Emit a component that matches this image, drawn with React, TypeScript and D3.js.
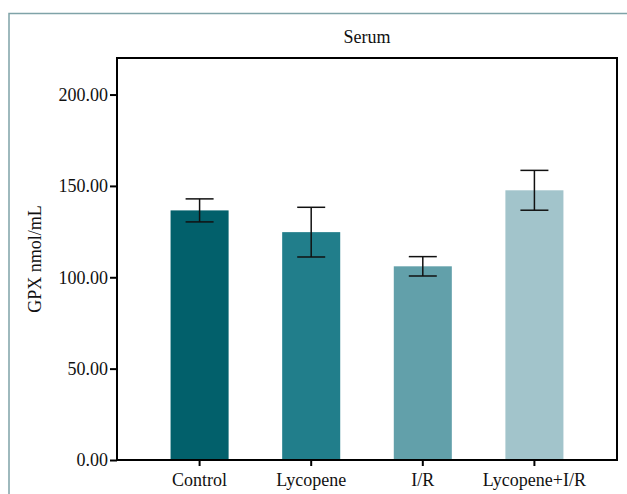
import React, { useRef, useEffect } from "react";
import * as d3 from "d3";

// chart data
const groups = ["Control", "Lycopene", "I/R", "Lycopene+I/R"];
const means = [136.6, 124.7, 106.0, 147.6];
const sems = [6.3, 13.6, 5.3, 10.9];
const barColors = ["#02606b", "#217e8b", "#62a0aa", "#a2c4cb"];
const yTicks = [0, 50, 100, 150, 200];
const title = "Serum";
const yLabel = "GPX nmol/mL";

const W = 627;
const H = 494;

const App = () => {
  const ref = useRef<SVGSVGElement | null>(null);

  useEffect(() => {
    if (!ref.current) return;
    const svg = d3.select(ref.current);
    svg.selectAll("*").remove();

    const font = "'Liberation Serif', 'DejaVu Serif', serif";
    const fs = 18;
    const margin = { top: 58, right: 10, bottom: 34, left: 117 };
    const width = W - margin.left - margin.right;
    const height = H - margin.top - margin.bottom;

    // outer frame (only top and left edges are visible)
    svg
      .append("path")
      .attr("d", `M9,${H} L9,13.5 L${W},13.5`)
      .attr("fill", "none")
      .attr("stroke", "#7fa3a8")
      .attr("stroke-width", 1.5);

    const chart = svg
      .append("g")
      .attr("transform", `translate(${margin.left},${margin.top})`);

    const x = d3.scaleBand().domain(groups).range([0, width]).padding(0.48);
    const y = d3.scaleLinear().domain([0, 220]).range([height, 0]);

    const data = groups.map((g, i) => ({ g, m: means[i], e: sems[i], c: barColors[i] }));

    // bars
    chart
      .selectAll("rect.bar")
      .data(data)
      .enter()
      .append("rect")
      .attr("class", "bar")
      .attr("x", (d) => x(d.g)!)
      .attr("y", (d) => y(d.m))
      .attr("width", x.bandwidth())
      .attr("height", (d) => height - y(d.m))
      .attr("fill", (d) => d.c);

    // error bars
    const cap = 14;
    const cx = (d: { g: string }) => x(d.g)! + x.bandwidth() / 2;
    const eb = chart.selectAll("g.err").data(data).enter().append("g").attr("class", "err");
    eb.append("line")
      .attr("x1", cx)
      .attr("x2", cx)
      .attr("y1", (d) => y(d.m - d.e))
      .attr("y2", (d) => y(d.m + d.e));
    eb.append("line")
      .attr("x1", (d) => cx(d) - cap)
      .attr("x2", (d) => cx(d) + cap)
      .attr("y1", (d) => y(d.m + d.e))
      .attr("y2", (d) => y(d.m + d.e));
    eb.append("line")
      .attr("x1", (d) => cx(d) - cap)
      .attr("x2", (d) => cx(d) + cap)
      .attr("y1", (d) => y(d.m - d.e))
      .attr("y2", (d) => y(d.m - d.e));
    eb.selectAll("line").attr("stroke", "#111").attr("stroke-width", 1.5);

    // box
    chart
      .append("rect")
      .attr("x", 0)
      .attr("y", 0)
      .attr("width", width)
      .attr("height", height)
      .attr("fill", "none")
      .attr("stroke", "#000")
      .attr("stroke-width", 2);

    // y axis
    const yAxis = chart
      .append("g")
      .call(
        d3
          .axisLeft(y)
          .tickValues(yTicks)
          .tickSize(7)
          .tickPadding(2)
          .tickFormat((d) => d3.format(".2f")(d as number))
      );
    yAxis.select(".domain").remove();
    yAxis.selectAll("line").attr("stroke", "#000").attr("stroke-width", 2);
    yAxis
      .selectAll("text")
      .attr("font-family", font)
      .attr("font-size", fs)
      .attr("fill", "#111");

    // x axis
    const xAxis = chart
      .append("g")
      .attr("transform", `translate(0,${height})`)
      .call(d3.axisBottom(x).tickSize(6).tickPadding(7));
    xAxis.select(".domain").remove();
    xAxis.selectAll("line").attr("stroke", "#000").attr("stroke-width", 2);
    xAxis
      .selectAll("text")
      .attr("font-family", font)
      .attr("font-size", fs)
      .attr("fill", "#111");

    // title
    svg
      .append("text")
      .attr("x", margin.left + width / 2)
      .attr("y", 43)
      .attr("text-anchor", "middle")
      .attr("font-family", font)
      .attr("font-size", fs)
      .attr("fill", "#111")
      .text(title);

    // y label
    svg
      .append("text")
      .attr("transform", "rotate(-90)")
      .attr("x", -(margin.top + height / 2))
      .attr("y", 41)
      .attr("text-anchor", "middle")
      .attr("font-family", font)
      .attr("font-size", fs)
      .attr("fill", "#111")
      .text(yLabel);
  }, []);

  return (
    <svg
      ref={ref}
      width={W}
      height={H}
      style={{ position: "absolute", left: 0, top: 0, background: "#fff" }}
    />
  );
};

export default App;
